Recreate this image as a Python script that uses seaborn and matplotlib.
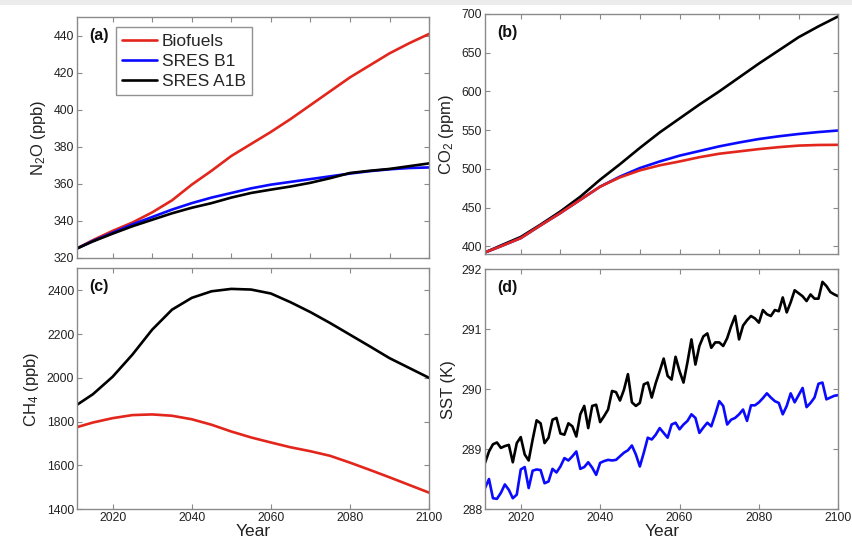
import numpy as np
import pandas as pd
import seaborn as sns
import matplotlib
matplotlib.use("Agg")
import matplotlib.pyplot as plt
from matplotlib.patches import Rectangle

# ---------------- data ----------------
years5 = [2011, 2015, 2020, 2025, 2030, 2035, 2040, 2045, 2050, 2055,
          2060, 2065, 2070, 2075, 2080, 2085, 2090, 2095, 2100]

n2o_bio = [325, 329.5, 334.5, 339, 344.5, 351, 359.5, 367, 375, 381.5,
           388, 395, 402.5, 410, 417.5, 424, 430.5, 436, 441]
n2o_b1 = [325, 329, 333.5, 338, 342, 346, 349.5, 352.5, 355, 357.5,
          359.5, 361, 362.5, 364, 365.5, 366.8, 367.8, 368.5, 368.8]
n2o_a1b = [325, 328.8, 333, 337, 340.5, 344, 347, 349.5, 352.5, 355,
           356.8, 358.5, 360.5, 363, 365.8, 367, 368, 369.5, 371]

co2_bio = [392, 400, 410.5, 427, 443, 460, 477, 489, 498, 504.5,
           509.5, 515, 519.5, 522.5, 525.5, 528, 530, 530.8, 531]
co2_b1 = [392, 400, 410.5, 427, 443, 460, 477, 490, 501, 509.5,
          517, 523, 529, 534, 538.5, 542, 545, 547.5, 549.5]
co2_a1b = [392, 401, 412, 428, 445, 464, 486, 506, 527, 547,
           565, 583, 600, 618, 636, 653, 670, 684, 697]

ch4_bio = [1775, 1796, 1816, 1830, 1833, 1827, 1811, 1786, 1755, 1728,
           1705, 1683, 1665, 1644, 1613, 1580, 1546, 1511, 1476]
ch4_a1b = [1877, 1925, 2005, 2106, 2220, 2311, 2365, 2395, 2406, 2403,
           2385, 2345, 2300, 2250, 2197, 2144, 2090, 2045, 2000]

years1 = list(range(2011, 2101))
sst_a1b = [288.77, 288.96, 289.08, 289.11, 289.02, 289.05, 289.07, 288.78, 289.10, 289.20,
           288.91, 288.81, 289.16, 289.48, 289.43, 289.10, 289.19, 289.49, 289.52, 289.26,
           289.24, 289.43, 289.38, 289.21, 289.58, 289.72, 289.35, 289.72, 289.74, 289.45,
           289.55, 289.66, 289.97, 289.95, 289.81, 289.99, 290.25, 289.78, 289.72, 289.77,
           290.08, 290.11, 289.86, 290.10, 290.30, 290.51, 290.22, 290.16, 290.54, 290.30,
           290.11, 290.45, 290.83, 290.41, 290.72, 290.88, 290.93, 290.69, 290.78, 290.78,
           290.72, 290.85, 291.05, 291.22, 290.83, 291.06, 291.15, 291.22, 291.18, 291.11,
           291.32, 291.25, 291.22, 291.32, 291.30, 291.53, 291.28, 291.45, 291.65, 291.60,
           291.55, 291.47, 291.58, 291.51, 291.51, 291.79, 291.72, 291.62, 291.58, 291.55]
sst_b1 = [288.35, 288.50, 288.18, 288.17, 288.27, 288.41, 288.32, 288.18, 288.24, 288.66,
          288.70, 288.35, 288.64, 288.66, 288.65, 288.43, 288.46, 288.67, 288.61, 288.71,
          288.85, 288.81, 288.88, 288.96, 288.67, 288.70, 288.78, 288.69, 288.57, 288.77,
          288.80, 288.82, 288.81, 288.82, 288.88, 288.94, 288.98, 289.06, 288.91, 288.71,
          288.94, 289.19, 289.16, 289.24, 289.35, 289.27, 289.19, 289.41, 289.44, 289.33,
          289.41, 289.47, 289.58, 289.52, 289.27, 289.36, 289.44, 289.38, 289.58, 289.80,
          289.72, 289.41, 289.49, 289.52, 289.58, 289.66, 289.47, 289.73, 289.73, 289.78,
          289.85, 289.93, 289.86, 289.80, 289.77, 289.58, 289.72, 289.93, 289.78, 289.90,
          290.02, 289.70, 289.77, 289.86, 290.09, 290.11, 289.83, 289.86, 289.89, 289.90]

labels = ["Biofuels", "SRES B1", "SRES A1B"]
colors = {"Biofuels": "#e2261c", "SRES B1": "#0a0aff", "SRES A1B": "#000000"}

# ---------------- style ----------------
sns.set_theme(style="white")
plt.rcParams["font.family"] = ["Liberation Sans", "DejaVu Sans"]
plt.rcParams["mathtext.fontset"] = "custom"
plt.rcParams["mathtext.rm"] = "Liberation Sans"
plt.rcParams["mathtext.it"] = "Liberation Sans:italic"

fig = plt.figure(figsize=(8.53, 5.44), dpi=100)
fig.patch.set_facecolor("white")
fig.patches.append(Rectangle((0, 1 - 5 / 544), 1, 5 / 544, transform=fig.transFigure,
                             facecolor="#ececec", edgecolor="none", zorder=-5))

axa = fig.add_axes([0.0903, 0.5263, 0.4127, 0.4419])
axb = fig.add_axes([0.5686, 0.5331, 0.4142, 0.4412])
axc = fig.add_axes([0.0903, 0.0638, 0.4127, 0.4430])
axd = fig.add_axes([0.5686, 0.0643, 0.4142, 0.4407])

def long_df(x, series):
    rows = []
    for name, vals in series:
        for xi, v in zip(x, vals):
            rows.append((xi, v, name))
    return pd.DataFrame(rows, columns=["Year", "val", "Scenario"])

lw = 1.9
dfa = long_df(years5, [("Biofuels", n2o_bio), ("SRES B1", n2o_b1), ("SRES A1B", n2o_a1b)])
dfb = long_df(years5, [("SRES A1B", co2_a1b), ("SRES B1", co2_b1), ("Biofuels", co2_bio)])
dfc = long_df(years5, [("SRES A1B", ch4_a1b), ("Biofuels", ch4_bio)])
dfd = long_df(years1, [("SRES A1B", sst_a1b), ("SRES B1", sst_b1)])

for ax, df in [(axa, dfa), (axb, dfb), (axc, dfc), (axd, dfd)]:
    for name in df["Scenario"].unique():
        sub = df[df["Scenario"] == name]
        sns.lineplot(data=sub, x="Year", y="val", ax=ax, color=colors[name],
                     linewidth=lw, label=name, legend=False)

spine_col = "#8a8a8a"
def style(ax, ylim, yticks, ylabel, panel, xticks, xlabels):
    ax.set_xlim(2011, 2100)
    ax.set_ylim(*ylim)
    ax.set_yticks(yticks)
    ax.set_xticks(xticks)
    if xlabels:
        ax.set_xticklabels([str(t) for t in xticks])
        ax.set_xlabel("Year", fontsize=12.5, labelpad=0, color="#222222")
    else:
        ax.set_xticklabels([])
        ax.set_xlabel("")
    ax.set_ylabel(ylabel, fontsize=12, color="#222222", labelpad=4)
    for s in ax.spines.values():
        s.set_visible(True)
        s.set_color(spine_col)
        s.set_linewidth(1.0)
    ax.tick_params(direction="in", length=3.5, width=0.8, color=spine_col,
                   labelsize=8.8, labelcolor="#222222", top=True, right=True,
                   bottom=True, left=True, pad=2)
    ax.text(0.035, 0.955, panel, transform=ax.transAxes, fontsize=11.5,
            fontweight="bold", va="top", ha="left", color="#111111")

style(axa, (320, 450), [320, 340, 360, 380, 400, 420, 440], r"N$_2$O (ppb)", "(a)",
      list(range(2020, 2101, 10)), False)
style(axb, (390, 700), [400, 450, 500, 550, 600, 650, 700], r"CO$_2$ (ppm)", "(b)",
      list(range(2020, 2101, 10)), False)
style(axc, (1400, 2500), [1400, 1600, 1800, 2000, 2200, 2400], r"CH$_4$ (ppb)", "(c)",
      list(range(2020, 2101, 20)), True)
style(axd, (288, 292), [288, 289, 290, 291, 292], "SST (K)", "(d)",
      list(range(2020, 2101, 20)), True)

handles, labs = axa.get_legend_handles_labels()
leg = axa.legend(handles, labs, loc="upper left", bbox_to_anchor=(0.11, 0.958),
                 borderaxespad=0, frameon=True, fancybox=False, fontsize=12.5,
                 handlelength=2.0, handletextpad=0.3, labelspacing=0.3,
                 borderpad=0.35)
leg.get_frame().set_edgecolor("#777777")
leg.get_frame().set_linewidth(1.0)

fig.savefig("out.png", dpi=100)
